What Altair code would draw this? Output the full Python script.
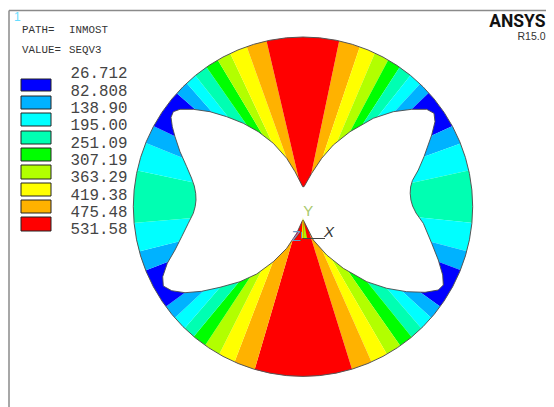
import altair as alt

# ---- ring band boundaries, clockwise from the top red band's right edge ----
outer_x = [339, 359.3, 374, 387.3, 399, 409.3, 419, 428.3, 451, 459, 467.7,
           470, 465.7, 458.3, 439.3, 430, 420, 410, 399, 386, 371, 351.7,
           255, 235, 220, 206, 195, 186, 176, 166.7, 146.7, 141, 136.7,
           138.3, 146.7, 155, 177.7, 188.3, 196.7, 207.3, 218.3, 231, 247.3, 266.7]
outer_y = [41.7, 48.3, 55, 61.7, 68.3, 76.7, 85, 93.3, 126.7, 144, 170.7,
           222.7, 251, 269.3, 306, 316.7, 326.7, 335, 344, 352.7, 360.7, 368.3,
           368.3, 360.7, 352.7, 344, 335, 326.7, 316.7, 306, 270, 251, 222.7,
           170.7, 143.3, 126.7, 94, 85, 77.3, 68.3, 61, 55, 48.3, 41.7]
inner_x = [311, 322.7, 336.7, 350, 363.3, 378.3, 395, 411.7, 431, 424, 415,
           418.3, 430, 438.3, 421.7, 403.3, 386.7, 368.3, 350, 335, 325, 312.7,
           291.7, 274.3, 261.7, 250, 238.3, 220, 202.7, 184, 168.3, 178.3, 188.3,
           192.3, 180, 174.3, 195, 211.7, 228.3, 246.7, 261.7, 271.7, 286.7, 298.3]
inner_y = [175, 156.7, 142.7, 131.7, 123.3, 116, 111, 109.3, 136, 156.7, 182.3,
           217.3, 241.7, 261.7, 293.3, 292.3, 288.3, 283.3, 274, 265, 256.7, 243.3,
           243.3, 258.3, 270, 277.3, 282.7, 287.3, 291.7, 293.3, 261.7, 241.7, 218.3,
           182.3, 156.7, 136, 109.3, 111.7, 117.3, 125, 133.3, 141.7, 158.3, 176.7]
band_levels = [8, 7, 6, 5, 4, 3, 2, 1, 2, 3, 4, 3, 2, 1, 2, 3, 4, 5, 6, 7, 8, 9,
               8, 7, 6, 5, 4, 3, 2, 1, 2, 3, 4, 3, 2, 1, 2, 3, 4, 5, 6, 7, 8, 9]

# ---- white hole outline ----
hole_x = [302.7, 295, 286.7, 273.3, 258.3, 243.3, 226.7, 210, 193.3, 180, 173.3, 171,
          172.3, 175, 180, 186.7, 191.5, 194.3, 195.7, 196, 195.2, 193.3, 188.3, 181.7, 175, 167.3,
          162.7, 163.3, 171.7, 185, 201.7, 220, 240, 256.7, 273.3, 286.7, 296.7, 302.7,
          303.3, 313.3, 326.7, 343.3, 366.7, 386.7, 406.7, 425, 438.3, 443.3, 442.7, 438.3,
          431.7, 423.3, 416, 412.6, 410.9, 410.2, 410.6, 412.4, 418.3, 424, 431.7, 435, 434, 426.7, 411.7,
          393.3, 373.3, 350, 333.3, 321.7, 311.7, 304]
hole_y = [186.7, 171.7, 158.3, 143.3, 131.7, 123.3, 116.7, 111.7, 109.3, 109.3, 111.7, 117.3,
          126.7, 136.7, 151.7, 166.7, 178, 186, 193.3, 200, 206.5, 213.3, 223.3, 236.7, 250, 263.3,
          276.7, 286, 290.7, 292.7, 291.3, 287.3, 281.7, 274, 261.7, 248.3, 233.3, 220,
          220, 240, 255, 268.3, 281.7, 288.3, 291.7, 292.3, 290, 285, 275, 260,
          243.3, 223.3, 213, 206, 200, 193.3, 187, 180.5, 170, 156.7, 135, 121.7, 113.3, 109.3, 109.3,
          111.7, 118.3, 131.7, 145, 158.3, 173.3, 186.7]

# ---- legend ----
level_colors = ["#0000ff", "#00b2ff", "#00ffff", "#00ffb2", "#00ff00",
                "#b2ff00", "#ffff00", "#ffb200", "#ff0000"]
level_ids = [1, 2, 3, 4, 5, 6, 7, 8, 9]
swatch_top = [79, 96, 113, 131, 148, 165, 183, 200, 217]
swatch_bot = [91, 109, 126, 144, 161, 179, 196, 213, 231]
legend_labels = ["26.712", "82.808", "138.90", "195.00", "251.09",
                 "307.19", "363.29", "419.38", "475.48", "531.58"]
legend_y = [73, 91, 108, 125, 143, 160, 177, 195, 212, 229]

circle_cx, circle_cy, circle_r = 303, 206.7, 169.7
X_DOM = [8, 546]
Y_DOM = [407, 8]
W, H = 538, 399

x_s = alt.Scale(domain=X_DOM, nice=False, zero=False)
y_s = alt.Scale(domain=Y_DOM, nice=False, zero=False)
X = lambda f: alt.X(f, type="quantitative", scale=x_s, axis=None)
Y = lambda f: alt.Y(f, type="quantitative", scale=y_s, axis=None)


def feature(xs, ys, level=0):
    pts = [[a, b] for a, b in zip(xs, ys)]
    pts.append(pts[0])
    return {"type": "Feature", "properties": {"level": level},
            "geometry": {"type": "Polygon", "coordinates": [pts]}}


def shape(features, **kw):
    return alt.Chart(alt.Data(values=features)).mark_geoshape(**kw).project(
        type="identity", scale=1, translate=[-8, -8])


# each band lies between two neighbouring boundaries, pushed past both edges
n = len(outer_x)
band_features = []
for i in range(n):
    j = (i + 1) % n
    a_out = (outer_x[i] + (outer_x[i] - inner_x[i]) * .3, outer_y[i] + (outer_y[i] - inner_y[i]) * .3)
    a_in = (inner_x[i] + (inner_x[i] - outer_x[i]) * .2, inner_y[i] + (inner_y[i] - outer_y[i]) * .2)
    b_out = (outer_x[j] + (outer_x[j] - inner_x[j]) * .3, outer_y[j] + (outer_y[j] - inner_y[j]) * .3)
    b_in = (inner_x[j] + (inner_x[j] - outer_x[j]) * .2, inner_y[j] + (inner_y[j] - outer_y[j]) * .2)
    band_features.append(feature([a_out[0], a_in[0], b_in[0], b_out[0]],
                                 [a_out[1], a_in[1], b_in[1], b_out[1]], band_levels[i]))

bands = shape(band_features, stroke=None, clip=True).encode(
    color=alt.Color("properties.level:N",
                    scale=alt.Scale(domain=level_ids, range=level_colors), legend=None))

hole = shape([feature(hole_x, hole_y)], fill="white", stroke="#4a4a4a", strokeWidth=0.9)

ring = alt.Chart(alt.Data(values=[{"x": circle_cx, "y": circle_cy}])).mark_arc(
    theta=0, theta2=6.2832, radius=700, radius2=circle_r, fill="white",
    stroke="#555555", strokeWidth=1, clip=True
).encode(x=X("x"), y=Y("y"))

triad_yellow = shape([feature([302.7, 301.5, 303.5], [216.5, 238, 238])], fill="#e8f000", stroke=None)
triad_lime = shape([feature([303.2, 303.5, 307], [218, 238, 238])], fill="#a8f000", stroke=None)

swatches = alt.Chart(alt.Data(values=[
    {"x": 21, "x2": 51, "y": t, "y2": b, "level": l}
    for t, b, l in zip(swatch_top, swatch_bot, level_ids)
])).mark_rect(stroke="#222222", strokeWidth=1).encode(
    x=X("x"), x2="x2:Q", y=Y("y"), y2="y2:Q",
    color=alt.Color("level:N", scale=alt.Scale(domain=level_ids, range=level_colors), legend=None))

legend_text = alt.Chart(alt.Data(values=[
    {"x": 70.5, "y": y, "t": t} for y, t in zip(legend_y, legend_labels)
])).mark_text(font="Liberation Mono", fontSize=15.8, align="left", baseline="middle",
              color="#444444").encode(x=X("x"), y=Y("y"), text="t:N")


def text_layer(rows, **kw):
    return alt.Chart(alt.Data(values=[{"x": r[0], "y": r[1], "t": r[2]} for r in rows])).mark_text(**kw).encode(
        x=X("x"), y=Y("y"), text="t:N")


small = text_layer([(22, 30, "PATH="), (69, 30, "INMOST"), (22, 49.5, "VALUE="), (69, 49.5, "SEQV3")],
                   font="Liberation Mono", fontSize=10.8, align="left", baseline="middle", color="#333333")
one = text_layer([(14, 17, "1")], font="Liberation Sans", fontSize=12, align="left", baseline="middle", color="#66ddff")
ansys = text_layer([(545.5, 26.5, "ANSYS")], font="Roboto", fontWeight="bold", fontSize=17.5,
                   align="right", baseline="alphabetic", color="#111111")
rev = text_layer([(545.5, 40, "R15.0")], font="Liberation Sans", fontSize=10.5, align="right",
                 baseline="alphabetic", color="#333333")
lx = text_layer([(329, 232, "X")], font="Liberation Sans", fontSize=15, align="center", baseline="middle",
                color="#333333", fontStyle="italic")
ly = text_layer([(308.3, 210.5, "Y")], font="Liberation Sans", fontSize=15, align="center", baseline="middle",
                color="#a8c86a")
lz = text_layer([(296.7, 235.5, "Z")], font="Liberation Sans", fontSize=15, align="center", baseline="middle",
                color="#6a9bc8")


def rule(rows, color, width):
    return alt.Chart(alt.Data(values=[{"x": r[0], "y": r[1], "x2": r[2], "y2": r[3]} for r in rows])).mark_rule(
        color=color, strokeWidth=width).encode(x=X("x"), y=Y("y"), x2="x2:Q", y2="y2:Q")


frame = rule([(9, 10.5, 546, 10.5), (9, 10.5, 9, 407)], "#8a8a8a", 1.5)
triad_x = rule([(303, 238.5, 325, 238.5)], "#444444", 1)
triad_z = rule([(301.5, 232, 301.5, 238.5)], "#5a8fc0", 1)

chart = alt.layer(
    bands, ring, hole, triad_yellow, triad_lime, triad_x, triad_z,
    swatches, legend_text, small, one, ansys, rev, lx, ly, lz, frame
).properties(
    width=W, height=H, padding=0, background="white",
    autosize=alt.AutoSizeParams(type="none")
).configure_view(stroke=None)

chart.save("out.html", embed_options={"renderer": "svg", "actions": False})
